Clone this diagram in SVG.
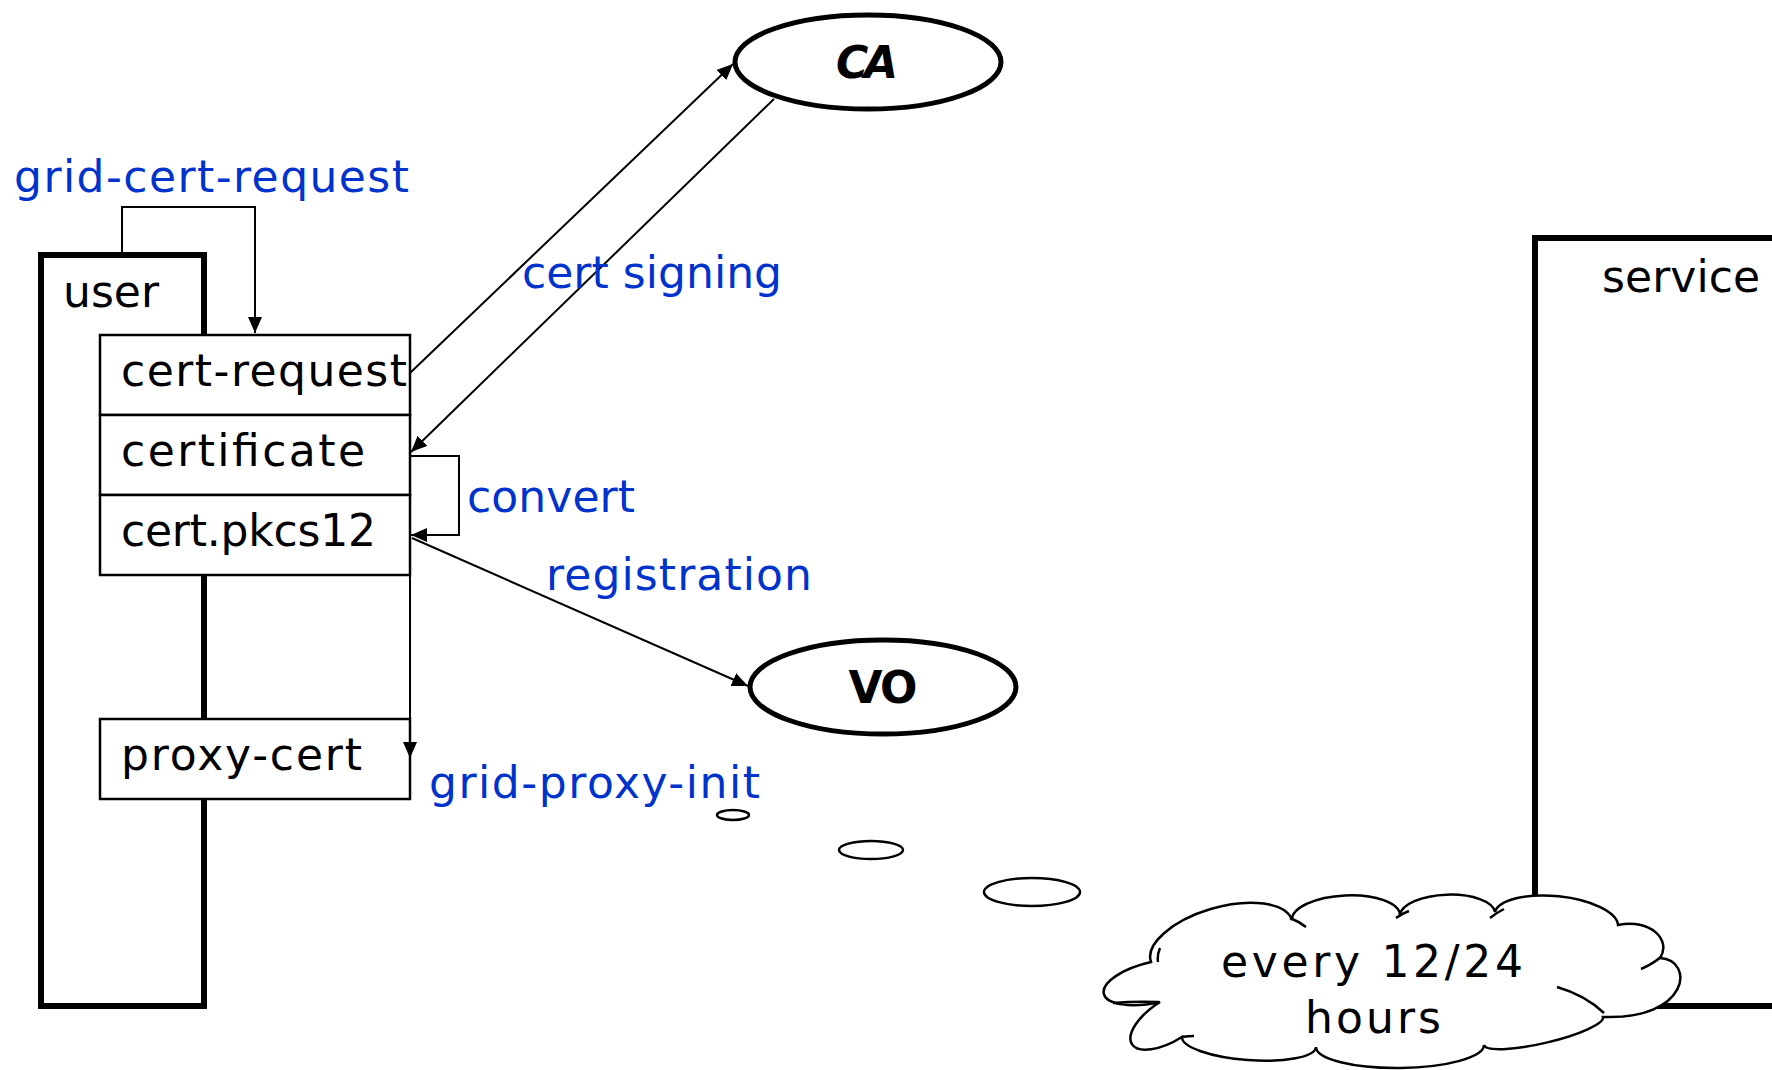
<svg xmlns="http://www.w3.org/2000/svg" width="1772" height="1070" viewBox="0 0 1772 1070">
<defs>
<style>
.t{font-family:"DejaVu Sans","Liberation Sans",sans-serif;font-size:44px;fill:#000}
.b{font-family:"DejaVu Sans","Liberation Sans",sans-serif;font-size:44px;fill:#0033cc}
.big{font-family:"DejaVu Sans","Liberation Sans",sans-serif;font-size:44px;font-weight:bold;fill:#000}
.thick{fill:#fff;stroke:#000;stroke-width:6}
.box{fill:#fff;stroke:#000;stroke-width:2.5}
.ell{fill:#fff;stroke:#000;stroke-width:5}
.con{fill:none;stroke:#000;stroke-width:2}
.bub{fill:#fff;stroke:#000;stroke-width:2.5}
.tick{fill:none;stroke:#000;stroke-width:2.5}
</style>
<marker id="ah" markerUnits="userSpaceOnUse" markerWidth="18" markerHeight="14" refX="16" refY="7" orient="auto">
<path d="M0,0 L16,7 L0,14 Z" fill="#000"/>
</marker>
</defs>
<rect width="1772" height="1070" fill="#fff"/>

<g id="service">
<rect class="thick" x="1535" y="238" width="260" height="768"/>
<text class="t" x="1602" y="292" textLength="158" lengthAdjust="spacing">service</text>
</g>

<g id="user">
<rect class="thick" x="41" y="255" width="163" height="751"/>
<text class="t" x="63" y="307" textLength="96" lengthAdjust="spacing">user</text>
</g>

<g id="cert-request">
<rect class="box" x="100" y="335" width="310" height="80"/>
<text class="t" x="121" y="386" textLength="286" lengthAdjust="spacing">cert-request</text>
</g>
<g id="certificate">
<rect class="box" x="100" y="415" width="310" height="80"/>
<text class="t" x="121" y="466" textLength="244" lengthAdjust="spacing">certificate</text>
</g>
<g id="cert-pkcs12">
<rect class="box" x="100" y="495" width="310" height="80"/>
<text class="t" x="121" y="546" textLength="255" lengthAdjust="spacing">cert.pkcs12</text>
</g>
<g id="proxy-cert">
<rect class="box" x="100" y="719" width="310" height="80"/>
<text class="t" x="121" y="770" textLength="241" lengthAdjust="spacing">proxy-cert</text>
</g>

<g id="CA">
<ellipse class="ell" cx="868" cy="62" rx="133" ry="47"/>
<text class="big" x="867" y="78" text-anchor="middle" font-style="italic" textLength="62" lengthAdjust="spacing">CA</text>
</g>
<g id="VO">
<ellipse class="ell" cx="883" cy="687" rx="133" ry="47"/>
<text class="big" x="883" y="703" text-anchor="middle" textLength="69" lengthAdjust="spacing">VO</text>
</g>

<g id="connectors">
<path class="con" d="M122,255 V207 H255 V333" marker-end="url(#ah)"/>
<path class="con" d="M410,373 L733,64" marker-end="url(#ah)"/>
<path class="con" d="M774,99 L411,452" marker-end="url(#ah)"/>
<path class="con" d="M410,456 H459 V535 H411" marker-end="url(#ah)"/>
<path class="con" d="M412,538 L748,686" marker-end="url(#ah)"/>
<path class="con" d="M410,575 V758" marker-end="url(#ah)"/>
<text class="b" x="14" y="192" textLength="395" lengthAdjust="spacing">grid-cert-request</text>
<text class="b" x="522" y="288" textLength="260" lengthAdjust="spacing">cert signing</text>
<text class="b" x="467" y="512" textLength="168" lengthAdjust="spacing">convert</text>
<text class="b" x="546" y="590" textLength="266" lengthAdjust="spacing">registration</text>
<text class="b" x="429" y="798" textLength="331" lengthAdjust="spacing">grid-proxy-init</text>
</g>

<g id="thought-bubbles">
<ellipse class="bub" cx="733" cy="815" rx="16" ry="5"/>
<ellipse class="bub" cx="871" cy="850" rx="32" ry="9"/>
<ellipse class="bub" cx="1032" cy="892" rx="48" ry="14"/>
</g>

<g id="cloud">
<path class="bub" d="M1151,962 A72,33 -16 0 1 1292,920 A54,22 -2.7 0 1 1400,915 A47.6,20 -1.8 0 1 1495,912 A62,24 6 0 1 1618,925 C1650,918 1672,940 1660,958 C1695,960 1690,1020 1603,1017 A61,12 166.8 0 1 1484,1045 A84,22 179.3 0 1 1316,1047 A67,18 184.3 0 1 1182,1037 A20.6,46 237.8 0 1 1160,1002 A20.5,53 257.3 0 1 1151,962 Z"/>
<path class="tick" d="M1160,948 Q1157,955 1158,962 M1290,918 Q1298,921 1306,927 M1396,918 Q1401,914 1409,911 M1490,918 Q1496,913 1504,909 M1641,969 Q1653,964 1662,956 M1557,987 Q1585,995 1604,1013 M1113,1003 Q1135,1001 1159,1002 M1182,1037 Q1188,1036 1194,1036"/>
<text class="t" x="1372" y="977" text-anchor="middle" textLength="302" lengthAdjust="spacing">every 12/24</text>
<text class="t" x="1373" y="1033" text-anchor="middle" textLength="136" lengthAdjust="spacing">hours</text>
</g>
</svg>
